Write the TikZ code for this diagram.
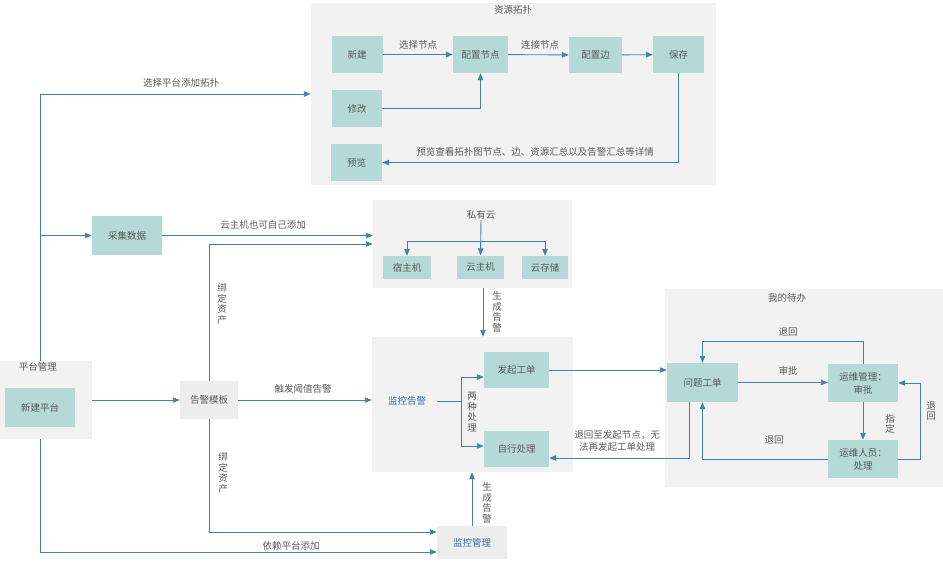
\documentclass[tikz,border=0pt]{standalone}
\usepackage{fontspec}
\setmainfont{Noto Sans CJK SC}
\usetikzlibrary{arrows.meta,calc}
\definecolor{teal1}{RGB}{180,217,214}
\definecolor{grp}{RGB}{242,242,242}
\definecolor{box2}{RGB}{237,237,237}
\definecolor{ln}{RGB}{66,130,170}
\definecolor{txt}{RGB}{90,90,90}
\definecolor{btxt}{RGB}{62,110,160}
\begin{document}
\begin{tikzpicture}[x=1pt,y=-1pt,
  font=\fontsize{9.5}{12.5}\selectfont,
  every node/.style={text=txt},
  grpbox/.style 2 args={fill=grp, draw=none, minimum width=#1pt, minimum height=#2pt, inner sep=0pt},
  tb/.style 2 args={fill=teal1, draw=none, minimum width=#1pt, minimum height=#2pt, inner sep=0pt, align=center},
  gb/.style 2 args={fill=box2, draw=none, minimum width=#1pt, minimum height=#2pt, inner sep=0pt, align=center},
  arr/.style={draw=ln, line width=0.9pt, -{Triangle[length=7pt,width=5.5pt]}},
  ln0/.style={draw=ln, line width=0.9pt},
  lab/.style={inner sep=0pt, align=center},
  vlab/.style={inner sep=0pt, align=center, font=\fontsize{9.5}{10.5}\selectfont}]
\useasboundingbox (0,0) rectangle (943,566);
\fill[white] (0,0) rectangle (943,566);

% groups
\node[grpbox={405}{182}] (gtopo) at (513.5,94) {};
\node[grpbox={92}{78}] (gplat) at (46,400) {};
\node[grpbox={199}{88}] (gcloud) at (472.5,244) {};
\node[grpbox={201}{135}] (gmon) at (472.5,404.5) {};
\node[grpbox={278}{198}] (gtodo) at (804,388) {};

% titles
\node[lab] (ttopo) at (513,10) {资源拓扑};
\node[lab] (tplat) at (38,367) {平台管理};
\node[lab] (tcloud) at (481,215) {私有云};
\node[lab] (ttodo) at (787,298) {我的待办};

% nodes
\node[tb={51}{37}] (xj) at (357,54.5) {新建};
\node[tb={55}{37}] (pzjd) at (480.5,54.5) {配置节点};
\node[tb={53}{36}] (pzb) at (595.5,55) {配置边};
\node[tb={51}{37}] (bc) at (678.5,54.5) {保存};
\node[tb={50}{37}] (xg) at (357,108.5) {修改};
\node[tb={51}{37}] (yl) at (356.5,162.5) {预览};
\node[tb={70}{39}] (xjpt) at (40,407.5) {新建平台};
\node[tb={70}{39}] (cjsj) at (127,235.5) {采集数据};
\node[gb={58}{38}] (gjmb) at (209,400) {告警模板};
\node[tb={48}{23}] (szj) at (407,267.5) {宿主机};
\node[tb={47}{23}] (yzj) at (480.5,267) {云主机};
\node[tb={46}{23}] (ycc) at (545,267.5) {云存储};
\node[inner sep=0pt, minimum width=60pt, minimum height=20pt, text=btxt] (jkgj) at (407,401) {监控告警};
\node[tb={65}{36}] (fqgd) at (516.5,370) {发起工单};
\node[tb={65}{36}] (zxcl) at (516.5,449) {自行处理};
\node[tb={71}{39}] (wtgd) at (702.5,382.5) {问题工单};
\node[tb={70}{38}, font=\fontsize{9.5}{13}\selectfont] (ywgl) at (863,383) {运维管理：\\审批};
\node[tb={70}{38}, font=\fontsize{9.5}{13}\selectfont] (ywry) at (863,459) {运维人员：\\处理};
\node[gb={70}{33}, text=btxt] (jkgl) at (472,542.5) {监控管理};

% topology edges
\draw[arr] (xj) -- (pzjd);
\node[lab] (l1) at (418,45) {选择节点};
\draw[arr] (pzjd) -- (pzb);
\node[lab] (l2) at (540,45) {连接节点};
\draw[arr] (pzb) -- (bc);
\draw[arr] (xg.east) -| (pzjd.south);
\draw[arr] (bc.south) |- (yl.east);
\node[lab] (l3) at (535,152) {预览查看拓扑图节点、边、资源汇总以及告警汇总等详情};

% left trunk
\draw[arr] (xjpt |- gplat.north) |- (gtopo.west);
\node[lab] (l4) at (181,83) {选择平台添加拓扑};
\draw[arr] (xjpt |- cjsj) -- (cjsj.west);
\draw[arr] (cjsj.east) -- (cjsj.east -| gcloud.west);
\node[lab] (l5) at (263,225) {云主机也可自己添加};
\draw[arr] (gjmb.north) |- (gcloud.west);
\node[vlab] (l6) at (222,304) {绑\\定\\资\\产};
\draw[arr] (gplat.east |- gjmb) -- (gjmb.west);
\draw[arr] (gjmb.east) -- (gjmb.east -| gmon.west);
\node[lab] (l7) at (303,389) {触发阈值告警};
\draw[arr] (gjmb.south) |- ($(jkgl.west)+(0,-10.5)$);
\node[vlab] (l8) at (223,473) {绑\\定\\资\\产};
\draw[arr] (xjpt |- gplat.south) |- ($(jkgl.west)+(0,9.5)$);
\node[lab] (l9) at (291,546) {依赖平台添加};

% private cloud
\coordinate (cbar) at (481,241);
\draw[arr] (tcloud.south) -- (yzj.north);
\draw[arr] (cbar) -| (szj.north);
\draw[arr] (cbar) -| (ycc.north);
\draw[arr] ($(yzj |- gcloud.south)+(2.5,0)$) -- ($(yzj |- gmon.north)+(2.5,0)$);
\node[vlab] (l10) at (497,312) {生\\成\\告\\警};

% monitoring
\coordinate (split) at (461,401);
\draw[ln0] (jkgj.east) -- (split);
\draw[arr] (split) |- ($(fqgd.west)+(0,7)$);
\draw[arr] (split) |- ($(zxcl.west)+(0,-3)$);
\node[vlab] (l11) at (472,412) {两\\种\\处\\理};
\draw[arr] (fqgd.east) -- (fqgd.east -| wtgd.west);
\draw[arr] ($(wtgd.south)+(-13.5,0)$) |- ($(zxcl.east)+(0,9)$);
\node[lab, font=\fontsize{9.5}{12}\selectfont] (l12) at (617,441) {退回至发起节点，无\\法再发起工单处理};
\draw[arr] (jkgl.north) -- (jkgl.north |- gmon.south);
\node[vlab] (l13) at (487,503) {生\\成\\告\\警};

% todo
\draw[arr] (wtgd.east) -- (wtgd.east -| ywgl.west);
\node[lab] (l14) at (788,371) {审批};
\draw[arr] (ywgl.north) -- ++(0,-22) -| (wtgd.north);
\node[lab] (l15) at (788,332) {退回};
\draw[arr] (ywgl.south) -- (ywry.north);
\node[vlab] (l16) at (890,424) {指\\定};
\draw[arr] (ywry.east) -- ++(22,0) |- (ywgl.east);
\node[vlab] (l17) at (931,411) {退\\回};
\draw[arr] (ywry.west) -| (wtgd.south);
\node[lab] (l18) at (774,440) {退回};
\end{tikzpicture}
\end{document}
